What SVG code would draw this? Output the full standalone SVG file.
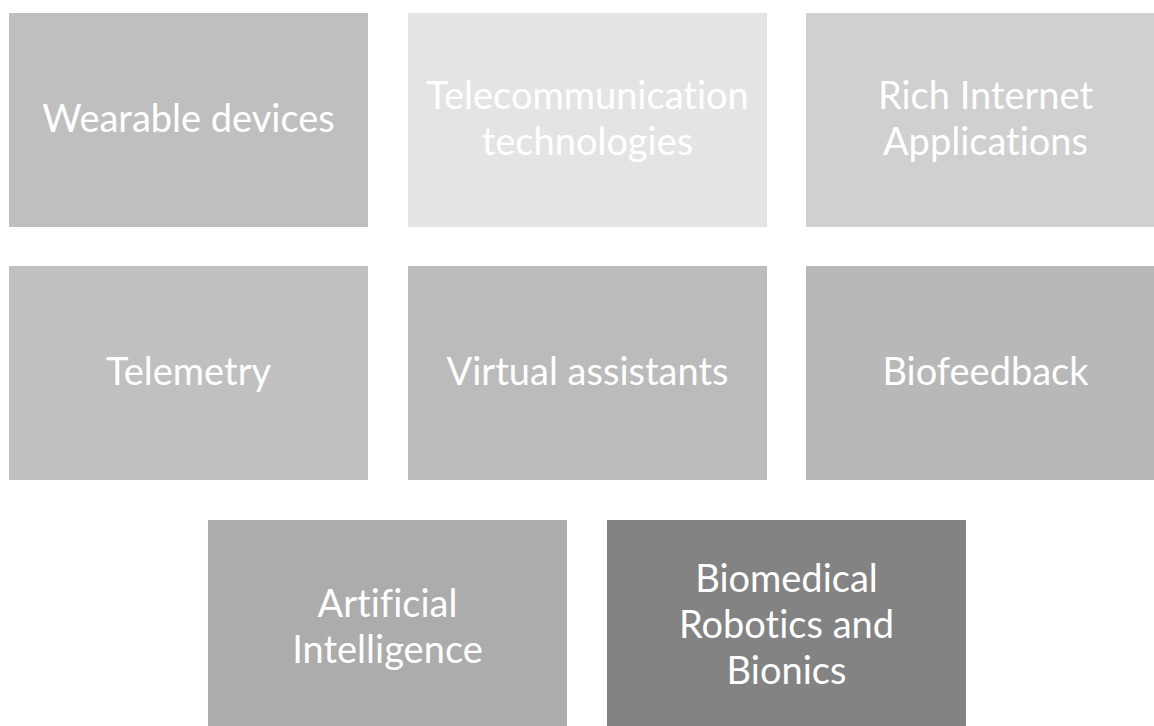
<svg xmlns="http://www.w3.org/2000/svg" width="1154" height="726" viewBox="0 0 1154 726">
<style>
.t{font-family:Lato,"Open Sans","Liberation Sans",sans-serif;font-size:38px;fill:#ffffff;text-anchor:middle;font-variant-ligatures:none}
</style>
<rect width="1154" height="726" fill="#ffffff"/>
<g id="n1"><rect x="9" y="13" width="359" height="214" fill="#bfbfbf"/><text class="t" x="188.5" y="132">Wearable devices</text></g>
<g id="n2"><rect x="408" y="13" width="359" height="214" fill="#e4e4e4"/><text class="t" x="587.5" y="109">Telecommunication</text><text class="t" x="587.5" y="155">technologies</text></g>
<g id="n3"><rect x="806" y="13" width="359" height="214" fill="#d0d0d0"/><text class="t" x="985.5" y="109">Rich Internet</text><text class="t" x="985.5" y="155">Applications</text></g>
<g id="n4"><rect x="9" y="266" width="359" height="214" fill="#c0c0c0"/><text class="t" x="188.5" y="385">Telemetry</text></g>
<g id="n5"><rect x="408" y="266" width="359" height="214" fill="#bbbbbb"/><text class="t" x="587.5" y="385">Virtual assistants</text></g>
<g id="n6"><rect x="806" y="266" width="359" height="214" fill="#b8b8b8"/><text class="t" x="985.5" y="385">Biofeedback</text></g>
<g id="n7"><rect x="208" y="520" width="359" height="214" fill="#acacac"/><text class="t" x="387.5" y="617">Artificial</text><text class="t" x="387.5" y="663">Intelligence</text></g>
<g id="n8"><rect x="607" y="520" width="359" height="214" fill="#838383"/><text class="t" x="786.5" y="592">Biomedical</text><text class="t" x="786.5" y="638">Robotics and</text><text class="t" x="786.5" y="684">Bionics</text></g>
<g id="connectors"></g>
</svg>
